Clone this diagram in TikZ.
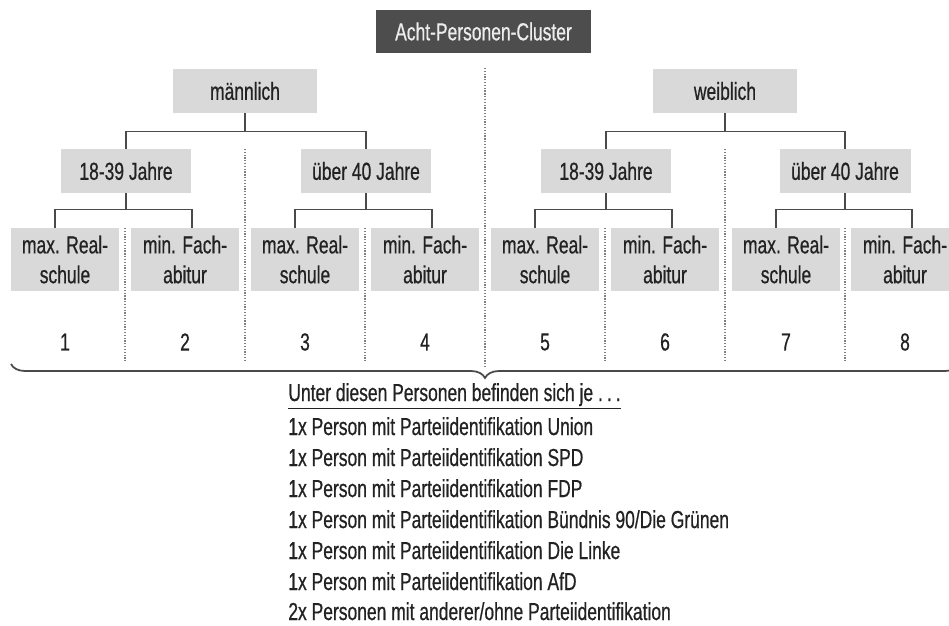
\documentclass[tikz,border=0pt]{standalone}
\usepackage{fontspec}
\setmainfont{Liberation Sans}[FakeStretch=0.71, FakeBold=0.6]
\usetikzlibrary{decorations.pathreplacing}
\definecolor{kastengrau}{HTML}{D9D9D9}
\definecolor{dunkelgrau}{HTML}{4D4D4D}
\definecolor{textgrau}{HTML}{222222}
\definecolor{liniengrau}{HTML}{4A4A4A}

\begin{document}
\begin{tikzpicture}[x=0.02cm, y=-0.02cm,
    every node/.style={font=\fontsize{14}{17}\selectfont, text=textgrau},
    kasten/.style={fill=kastengrau, inner sep=0pt, minimum height=0.88cm},
    blatt/.style={kasten, minimum width=2.16cm, minimum height=1.26cm, align=center},
    linie/.style={draw=liniengrau, line width=0.95pt},
    trenner/.style={draw=gray, line width=0.7pt, dash pattern=on 0.7pt off 0.9pt},
    klammer/.style={draw=liniengrau, line width=1pt, decorate,
                    decoration={brace, mirror, amplitude=0.28cm}},
]
    \clip (0,0) rectangle (949,625);

    % Kopf des Clusters
    \node[kasten, fill=dunkelgrau, text=white!93!black, minimum width=4.3cm, minimum height=0.86cm] (c) at (483.5,31.5) {Acht-Personen-Cluster};

    % Geschlecht
    \node[kasten, minimum width=2.88cm] (m) at (245,91) {männlich};
    \node[kasten, minimum width=2.88cm] (w) at (725,91) {weiblich};

    % Alter
    \node[kasten, minimum width=2.62cm] (ma) at (126,171) {18-39 Jahre};
    \node[kasten, minimum width=2.62cm] (mb) at (366,171) {über 40 Jahre};
    \node[kasten, minimum width=2.62cm] (wa) at (606,171) {18-39 Jahre};
    \node[kasten, minimum width=2.62cm] (wb) at (845,171) {über 40 Jahre};

    % Bildung
    \node[blatt] (l1) at (65,259.5)  {max. Real-\\schule};
    \node[blatt] (l2) at (185,259.5) {min. Fach-\\abitur};
    \node[blatt] (l3) at (305,259.5) {max. Real-\\schule};
    \node[blatt] (l4) at (425,259.5) {min. Fach-\\abitur};
    \node[blatt] (l5) at (545,259.5) {max. Real-\\schule};
    \node[blatt] (l6) at (665,259.5) {min. Fach-\\abitur};
    \node[blatt] (l7) at (786,259.5) {max. Real-\\schule};
    \node[blatt] (l8) at (905,259.5) {min. Fach-\\abitur};

    % Nummern
    \node (n1) at (65,342)  {1};
    \node (n2) at (185,342) {2};
    \node (n3) at (305,342) {3};
    \node (n4) at (425,342) {4};
    \node (n5) at (545,342) {5};
    \node (n6) at (665,342) {6};
    \node (n7) at (786,342) {7};
    \node (n8) at (905,342) {8};

    % Verbindungen
    \draw[linie] (m.south) -- ++(0,18) -| (ma.north);
    \draw[linie] (m.south) -- ++(0,18) -| (mb.north);
    \draw[linie] (w.south) -- ++(0,18) -| (wa.north);
    \draw[linie] (w.south) -- ++(0,18) -| (wb.north);

    \draw[linie] (ma.south) -- ++(0,16) -| ([xshift=-0.2cm]l1.north);
    \draw[linie] (ma.south) -- ++(0,16) -| ([xshift=0.14cm]l2.north);
    \draw[linie] (mb.south) -- ++(0,16) -| ([xshift=-0.2cm]l3.north);
    \draw[linie] (mb.south) -- ++(0,16) -| ([xshift=0.14cm]l4.north);
    \draw[linie] (wa.south) -- ++(0,16) -| ([xshift=-0.2cm]l5.north);
    \draw[linie] (wa.south) -- ++(0,16) -| ([xshift=0.14cm]l6.north);
    \draw[linie] (wb.south) -- ++(0,16) -| ([xshift=-0.2cm]l7.north);
    \draw[linie] (wb.south) -- ++(0,16) -| ([xshift=0.14cm]l8.north);

    % gepunktete Trennlinien
    \draw[trenner] (485,68) -- (485,366);
    \foreach \x in {245,725}
        \draw[trenner] (\x,149) -- (\x,362);
    \foreach \x in {125,365,605,845}
        \draw[trenner] (\x,228) -- (\x,362);

    % Klammer
    \draw[klammer] (11,364) -- (959,364);

    % Liste
    \node[anchor=base west, inner sep=0pt] (z0) at (288,401) {\underline{Unter diesen Personen befinden sich je .\,.\,.}};
    \node[anchor=base west, inner sep=0pt] (z1) at (288,435) {1x Person mit Parteiidentifikation Union};
    \node[anchor=base west, inner sep=0pt] (z2) at (288,466) {1x Person mit Parteiidentifikation SPD};
    \node[anchor=base west, inner sep=0pt] (z3) at (288,497) {1x Person mit Parteiidentifikation FDP};
    \node[anchor=base west, inner sep=0pt] (z4) at (288,528) {1x Person mit Parteiidentifikation Bündnis 90/Die Grünen};
    \node[anchor=base west, inner sep=0pt] (z5) at (288,559) {1x Person mit Parteiidentifikation Die Linke};
    \node[anchor=base west, inner sep=0pt] (z6) at (288,590) {1x Person mit Parteiidentifikation AfD};
    \node[anchor=base west, inner sep=0pt] (z7) at (288,620) {2x Personen mit anderer/ohne Parteiidentifikation};
\end{tikzpicture}
\end{document}
